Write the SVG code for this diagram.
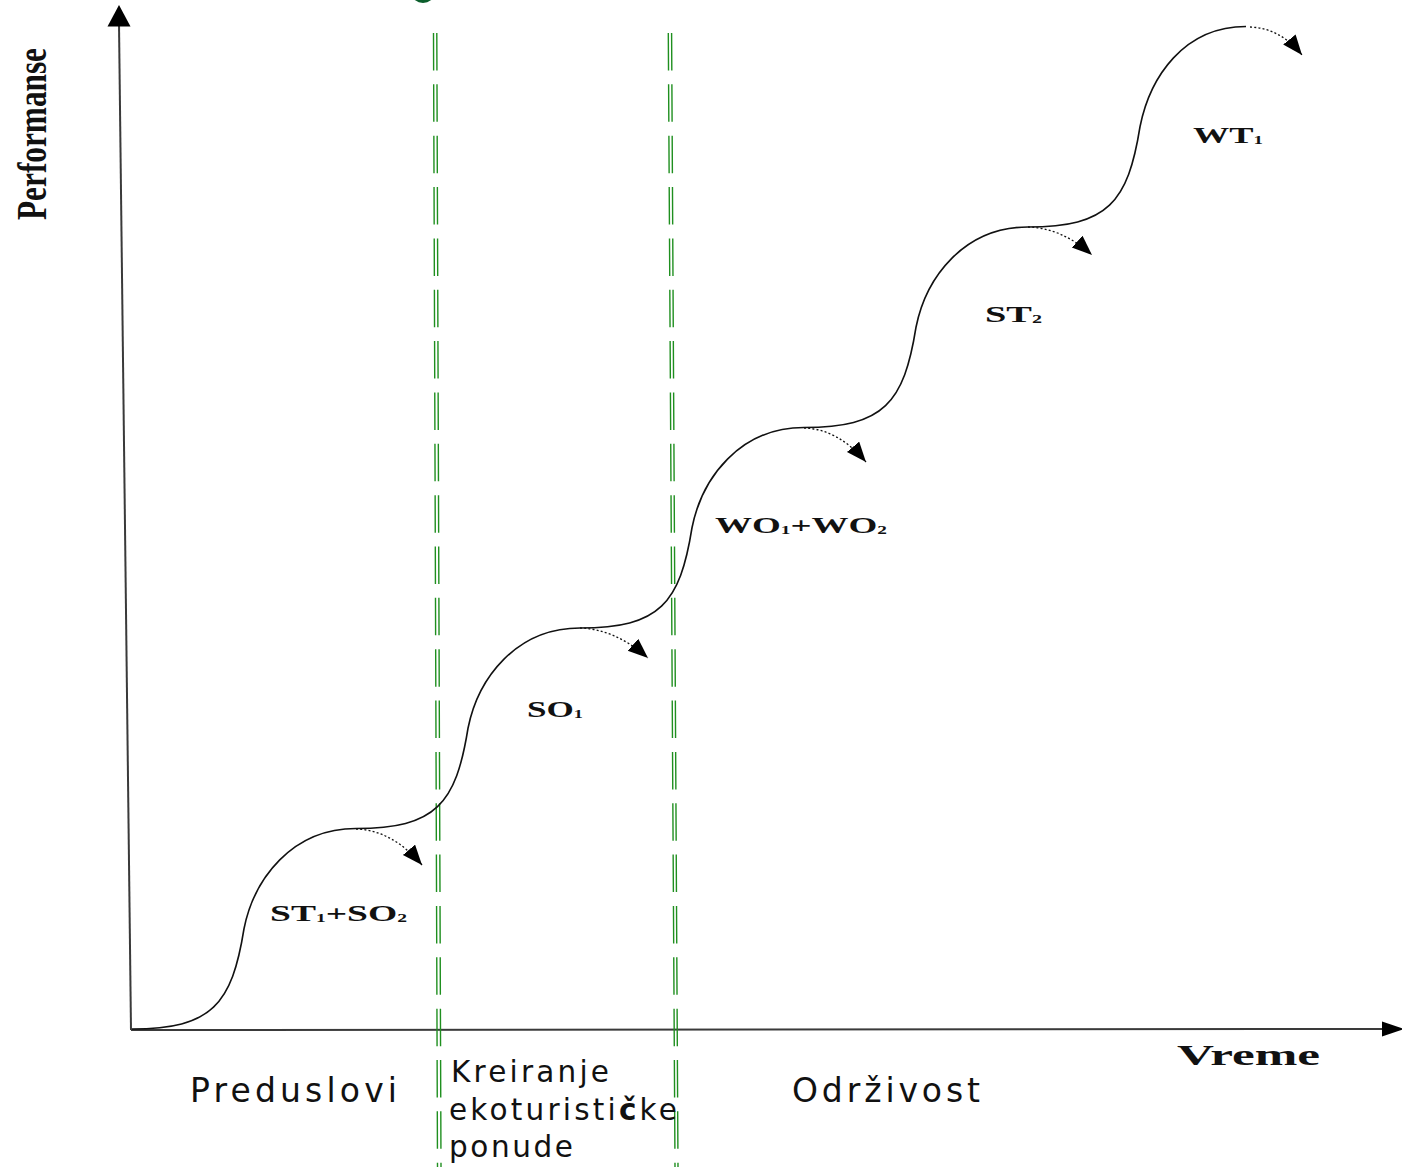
<svg xmlns="http://www.w3.org/2000/svg" width="1402" height="1167" viewBox="0 0 1402 1167">
<style>
.axis{stroke:#3a3a3a;stroke-width:2;fill:none}
.sep{stroke:#1f8f1f;stroke-width:1.4;stroke-dasharray:37.5 13.85;fill:none}
.curve{stroke:#111;stroke-width:1.6;fill:none}
.dot{stroke:#111;stroke-width:1.3;stroke-dasharray:2 2.2;fill:none}
.lbl{font-family:"Liberation Serif","Times New Roman",serif;font-weight:bold;font-size:23px;fill:#111}
.sub{font-size:12px}
.phase{font-family:"DejaVu Sans",Verdana,sans-serif;font-size:33px;fill:#111}
.phase2{font-family:"DejaVu Sans",Verdana,sans-serif;font-size:29.5px;fill:#111}
</style>
<defs>
<marker id="ah" markerUnits="userSpaceOnUse" markerWidth="22" markerHeight="18" refX="20" refY="8" orient="auto">
<path d="M0,0 L20,8 L0,16 z" fill="#000"/>
</marker>
</defs>
<rect width="1402" height="1167" fill="#fff"/>
<g id="top-mark">
<ellipse cx="423" cy="-6" rx="11" ry="9" fill="#0b5e2c"/>
</g>
<g id="axes">
<line class="axis" x1="131" y1="1030" x2="119" y2="24"/>
<path d="M119,5 L107.5,26.5 L130.5,26.5 z" fill="#000"/>
<line class="axis" x1="131" y1="1030" x2="1384" y2="1029" stroke="#555"/>
<path d="M1382,1021.5 L1404,1029 L1382,1036.5 z" fill="#000"/>
<text transform="translate(46,220) rotate(-90)" font-family="Liberation Serif, Times New Roman, serif" font-weight="bold" font-size="42" fill="#111" textLength="172" lengthAdjust="spacingAndGlyphs">Performanse</text>
<text class="lbl" x="1177" y="1065" style="font-size:30px" textLength="143" lengthAdjust="spacingAndGlyphs">Vreme</text>
</g>
<g id="separators">
<line class="sep" x1="433.5" y1="33" x2="437.5" y2="1167"/>
<line class="sep" x1="436.8" y1="33" x2="441" y2="1167"/>
<line class="sep" x1="668.3" y1="33" x2="675" y2="1167"/>
<line class="sep" x1="671.6" y1="33" x2="678" y2="1167"/>
</g>
<g id="connectors">
<path class="curve" d="M132,1029 c 80,0 100,-25 112,-100.25 c 10,-50 48,-100.25 112,-100.25 c 80,0 100,-25 112,-100.25 c 10,-50 48,-100.25 112,-100.25 c 80,0 100,-25 112,-100.25 c 10,-50 48,-100.25 112,-100.25 c 80,0 100,-25 112,-100.25 c 10,-50 48,-100.25 112,-100.25 c 80,0 100,-25 112,-100.25 c 10,-50 44,-100.25 106,-100.25"/>
<path class="dot" marker-end="url(#ah)" d="M356,829 Q392,830 422,865"/>
<path class="dot" marker-end="url(#ah)" d="M580,628 Q615,629 648,658"/>
<path class="dot" marker-end="url(#ah)" d="M804,428 Q838,429 866,462"/>
<path class="dot" marker-end="url(#ah)" d="M1028,227 Q1062,228 1092,255"/>
<path class="dot" marker-end="url(#ah)" d="M1250,27 Q1280,28 1302,55"/>
</g>
<g id="label-st1so2">
<text class="lbl" x="270" y="921" textLength="137" lengthAdjust="spacingAndGlyphs">ST<tspan class="sub" dy="1">1</tspan><tspan dy="-1">+SO</tspan><tspan class="sub" dy="1">2</tspan></text>
</g>
<g id="label-so1">
<text class="lbl" x="527" y="717" textLength="56" lengthAdjust="spacingAndGlyphs">SO<tspan class="sub" dy="1">1</tspan></text>
</g>
<g id="label-wo1wo2">
<text class="lbl" x="715" y="533" textLength="172" lengthAdjust="spacingAndGlyphs">WO<tspan class="sub" dy="1">1</tspan><tspan dy="-1">+WO</tspan><tspan class="sub" dy="1">2</tspan></text>
</g>
<g id="label-st2">
<text class="lbl" x="985" y="322" textLength="57" lengthAdjust="spacingAndGlyphs">ST<tspan class="sub" dy="1">2</tspan></text>
</g>
<g id="label-wt1">
<text class="lbl" x="1193" y="143" textLength="70" lengthAdjust="spacingAndGlyphs">WT<tspan class="sub" dy="1">1</tspan></text>
</g>
<g id="phase-preduslovi">
<text class="phase" x="190" y="1102" textLength="207" lengthAdjust="spacing">Preduslovi</text>
</g>
<g id="phase-kreiranje">
<text class="phase2" x="451" y="1082" textLength="158" lengthAdjust="spacing">Kreiranje</text>
<text class="phase2" x="449" y="1120" textLength="228" lengthAdjust="spacing">ekoturisti<tspan font-weight="bold">č</tspan>ke</text>
<text class="phase2" x="449" y="1157" textLength="124" lengthAdjust="spacing">ponude</text>
</g>
<g id="phase-odrzivost">
<text class="phase" x="792" y="1102" textLength="188" lengthAdjust="spacing">Održivost</text>
</g>
</svg>
